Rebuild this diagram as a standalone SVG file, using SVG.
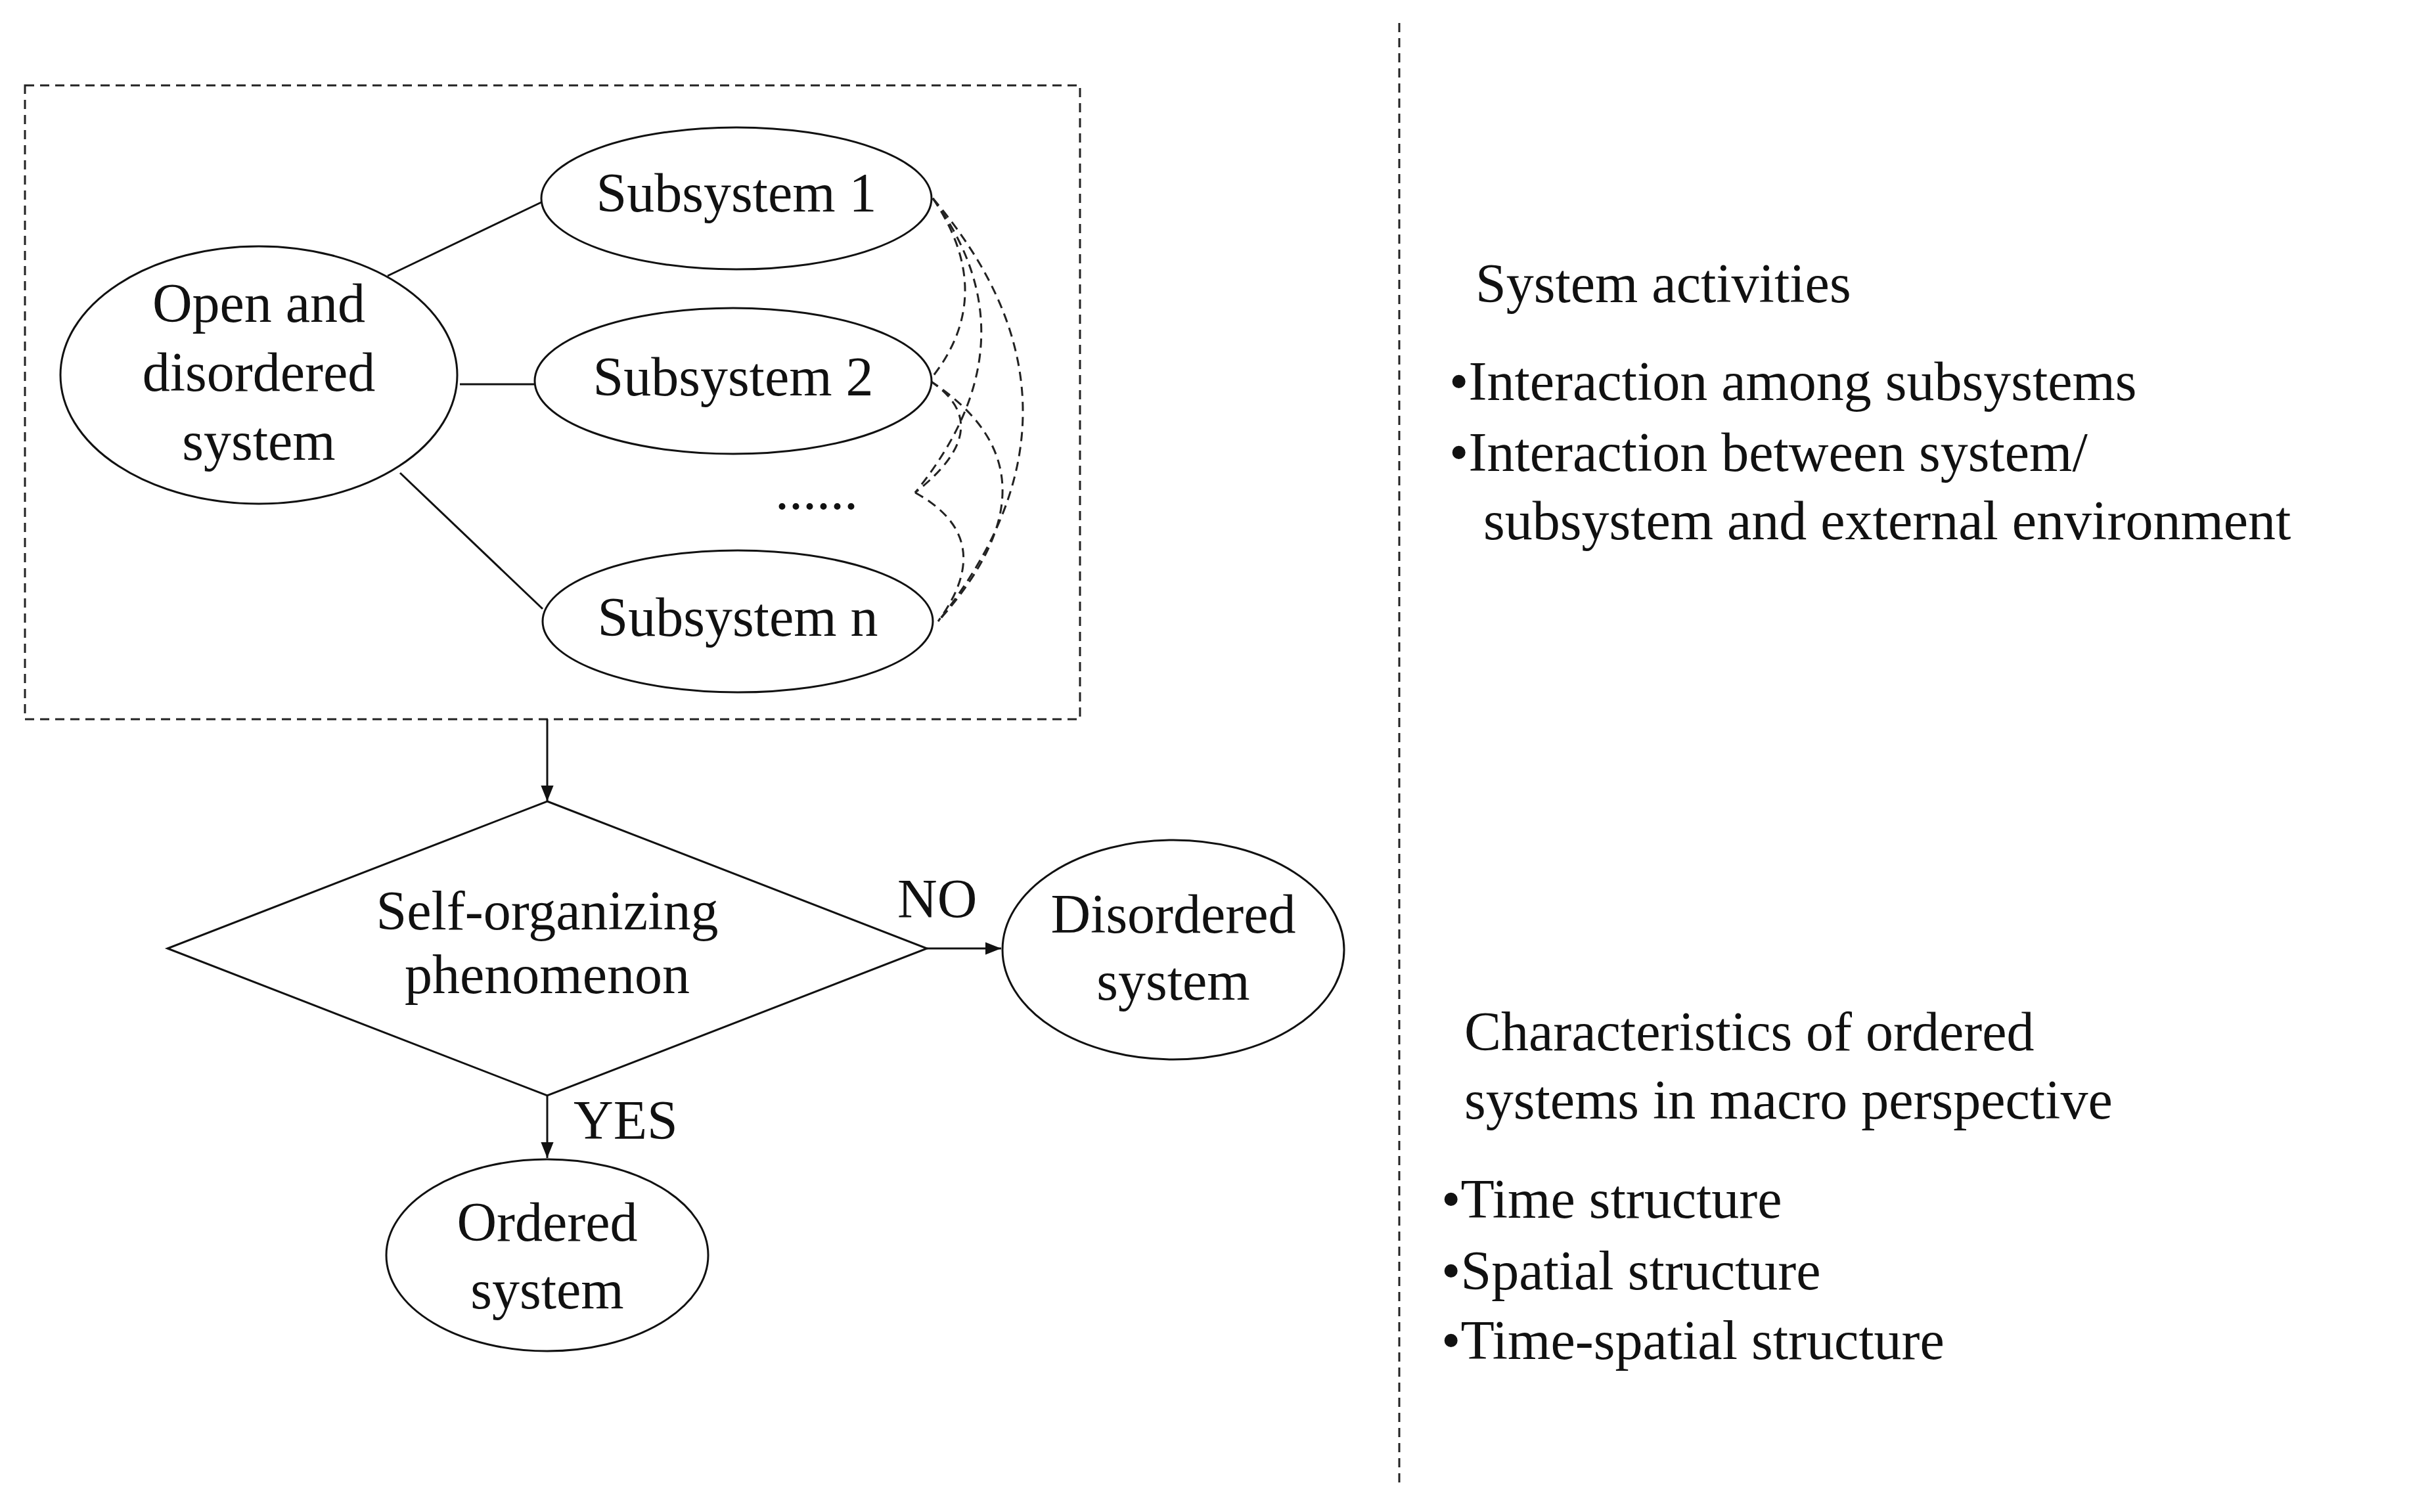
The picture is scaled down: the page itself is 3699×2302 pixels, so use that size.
<svg xmlns="http://www.w3.org/2000/svg" width="3699" height="2302" viewBox="0 0 3699 2302">
<defs>
<style>
.s{fill:#fff;stroke:#111;stroke-width:3}
.t{font-family:"Liberation Serif",serif;font-size:84px;fill:#111}
.c{text-anchor:middle}
.l{stroke:#111;stroke-width:3;fill:none}
.d{stroke:#222;stroke-width:3;fill:none;stroke-dasharray:14 9}
</style>
<marker id="a" viewBox="0 0 10 10" refX="10" refY="5" markerWidth="8" markerHeight="8" markerUnits="userSpaceOnUse" orient="auto"><path d="M0,0L10,5L0,10z" fill="#111"/></marker>
<marker id="b" viewBox="0 0 10 10" refX="10" refY="5" markerWidth="24" markerHeight="24" markerUnits="userSpaceOnUse" orient="auto"><path d="M0,1L10,5L0,9z" fill="#111"/></marker>
</defs>
<rect x="0" y="0" width="3699" height="2302" fill="#fff"/>
<g id="connectors">
<rect x="38" y="130" width="1606" height="965" class="d"/>
<line x1="2130" y1="35" x2="2130" y2="2265" class="d"/>
<line x1="590" y1="420" x2="826" y2="307" class="l"/>
<line x1="700" y1="585" x2="816" y2="585" class="l"/>
<line x1="609" y1="720" x2="826" y2="927" class="l"/>
<path d="M1420,302 Q1520,450 1416,578" class="d"/>
<path d="M1420,302 Q1580,520 1393,750" class="d"/>
<path d="M1420,302 Q1690,620 1428,946" class="d"/>
<path d="M1416,580 Q1630,720 1428,946" class="d"/>
<path d="M1393,750 Q1520,820 1428,946" class="d"/>
<path d="M1416,580 Q1520,650 1393,750" class="d"/>
<line x1="833" y1="1095" x2="833" y2="1220" class="l" marker-end="url(#b)"/>
<line x1="1411" y1="1444" x2="1524" y2="1444" class="l" marker-end="url(#b)"/>
<line x1="833" y1="1668" x2="833" y2="1763" class="l" marker-end="url(#b)"/>
<text x="1366" y="1397" class="t">NO</text>
<text x="873" y="1734" class="t">YES</text>
</g>
<g id="open"><ellipse cx="394" cy="571" rx="302" ry="196" class="s"/>
<text x="394" y="490" class="t c">Open and</text><text x="394" y="595" class="t c">disordered</text><text x="394" y="700" class="t c">system</text></g>
<g id="sub1"><ellipse cx="1121" cy="302" rx="297" ry="108" class="s"/><text x="1121" y="322" class="t c">Subsystem 1</text></g>
<g id="sub2"><ellipse cx="1116" cy="580" rx="302" ry="111" class="s"/><text x="1116" y="602" class="t c">Subsystem 2</text></g>
<g id="dots"><text x="1243" y="775" class="t c">......</text></g>
<g id="subn"><ellipse cx="1123" cy="946" rx="297" ry="108" class="s"/><text x="1123" y="968" class="t c">Subsystem n</text></g>
<g id="decision"><polygon points="833,1220 1411,1444 833,1668 255,1444" class="s"/>
<text x="833" y="1415" class="t c">Self-organizing</text><text x="833" y="1512" class="t c">phenomenon</text></g>
<g id="disordered"><ellipse cx="1786" cy="1446" rx="260" ry="167" class="s"/>
<text x="1786" y="1420" class="t c">Disordered</text><text x="1786" y="1522" class="t c">system</text></g>
<g id="ordered"><ellipse cx="833" cy="1911" rx="245" ry="146" class="s"/>
<text x="833" y="1889" class="t c">Ordered</text><text x="833" y="1992" class="t c">system</text></g>
<g id="activities">
<text x="2246" y="460" class="t">System activities</text>
<text x="2206" y="609" class="t">•Interaction among subsystems</text>
<text x="2206" y="717" class="t">•Interaction between system/</text>
<text x="2258" y="821" class="t">subsystem and external environment</text>
</g>
<g id="characteristics">
<text x="2229" y="1599" class="t">Characteristics of ordered</text>
<text x="2229" y="1703" class="t">systems in macro perspective</text>
<text x="2194" y="1854" class="t">•Time structure</text>
<text x="2194" y="1963" class="t">•Spatial structure</text>
<text x="2194" y="2069" class="t">•Time-spatial structure</text>
</g>
</svg>
